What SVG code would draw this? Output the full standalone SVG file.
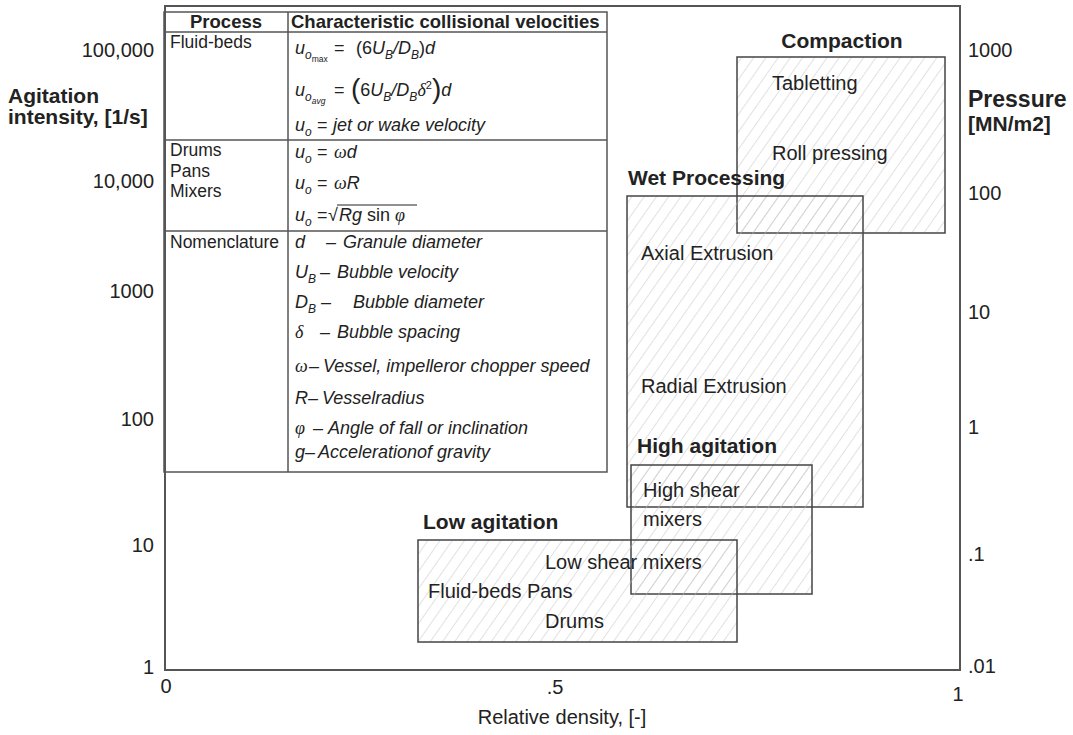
<svg xmlns="http://www.w3.org/2000/svg" width="1073" height="735" viewBox="0 0 1073 735">
<style>
text{font-family:"Liberation Sans",Arial,sans-serif;fill:#222;}
.b{font-weight:bold;}
.i{font-style:italic;}
.n{font-style:normal;}
.g{font-family:"Liberation Serif","Times New Roman",serif;font-style:italic;}
.tk{font-size:20px;}
.hd{font-size:21px;font-weight:bold;}
.lb{font-size:20px;}
.th{font-size:18.5px;font-weight:bold;}
.tc{font-size:17.5px;}
.f{font-size:18px;font-style:italic;}
.box{fill:url(#hatch);stroke:#444;stroke-width:1.5;}
.tbl{fill:none;stroke:#555;stroke-width:1.5;}
</style>
<defs>
<pattern id="hatch" width="10" height="10" patternUnits="userSpaceOnUse" patternTransform="rotate(35)">
<line x1="0" y1="-1" x2="0" y2="11" stroke="#c4c4c4" stroke-width="1"/>
</pattern>
</defs>
<rect width="1073" height="735" fill="#fff"/>

<g id="frame">
<rect x="165" y="6" width="795" height="664" fill="none" stroke="#555" stroke-width="2"/>
</g>

<g id="y-axis-left">
<text class="tk" x="154" y="57" text-anchor="end">100,000</text>
<text class="tk" x="154" y="188" text-anchor="end">10,000</text>
<text class="tk" x="154" y="298" text-anchor="end">1000</text>
<text class="tk" x="154" y="426" text-anchor="end">100</text>
<text class="tk" x="154" y="552" text-anchor="end">10</text>
<text class="tk" x="154" y="674" text-anchor="end">1</text>
<text class="b" font-size="21" x="8" y="103">Agitation</text>
<text class="b" font-size="21" x="8" y="124">intensity, [1/s]</text>
</g>

<g id="y-axis-right">
<text class="tk" x="968" y="57">1000</text>
<text class="tk" x="968" y="200">100</text>
<text class="tk" x="968" y="319">10</text>
<text class="tk" x="968" y="434">1</text>
<text class="tk" x="968" y="561">.1</text>
<text class="tk" x="968" y="673">.01</text>
<text class="b" font-size="23" x="968" y="107">Pressure</text>
<text class="b" font-size="21" x="968" y="131">[MN/m2]</text>
</g>

<g id="x-axis">
<text class="tk" x="166" y="693" text-anchor="middle">0</text>
<text class="tk" x="555" y="694" text-anchor="middle">.5</text>
<text class="tk" x="958" y="701" text-anchor="middle">1</text>
<text font-size="20" x="562" y="724" text-anchor="middle">Relative density, [-]</text>
</g>

<g id="table">
<rect class="tbl" x="164" y="12" width="443" height="460"/>
<line class="tbl" x1="164" y1="32" x2="607" y2="32"/>
<line class="tbl" x1="164" y1="140" x2="607" y2="140"/>
<line class="tbl" x1="164" y1="231" x2="607" y2="231"/>
<line class="tbl" x1="288" y1="12" x2="288" y2="472"/>
<text class="th" x="226" y="28" text-anchor="middle">Process</text>
<text class="th" x="291" y="28">Characteristic collisional velocities</text>
<text class="tc" x="170" y="48">Fluid-beds</text>
<text class="tc" x="170" y="156">Drums</text>
<text class="tc" x="170" y="177">Pans</text>
<text class="tc" x="170" y="197">Mixers</text>
<text class="tc" x="170" y="248">Nomenclature</text>

<text class="f" y="54"><tspan x="295">u</tspan><tspan y="59" font-size="12">o</tspan><tspan y="62" font-size="8.5" class="n">max</tspan><tspan x="334" y="54" class="n">=</tspan><tspan x="356" class="n">(6</tspan><tspan>U</tspan><tspan y="59" font-size="12">B</tspan><tspan y="54">/D</tspan><tspan y="59" font-size="12">B</tspan><tspan y="54" class="n">)</tspan><tspan>d</tspan></text>

<text class="f" y="96"><tspan x="295">u</tspan><tspan y="101" font-size="12">o</tspan><tspan y="104" font-size="8.5">avg</tspan><tspan x="334" y="96" class="n">=</tspan><tspan x="351" y="98" font-size="28" class="n">(</tspan><tspan y="96" class="n">6</tspan><tspan>U</tspan><tspan y="101" font-size="12">B</tspan><tspan y="96">/D</tspan><tspan y="101" font-size="12">B</tspan><tspan y="96" class="g">δ</tspan><tspan y="89" font-size="11" class="n">2</tspan><tspan y="98" font-size="28" class="n">)</tspan><tspan y="96">d</tspan></text>

<text class="f" y="131"><tspan x="295">u</tspan><tspan y="136" font-size="12">o</tspan><tspan x="317" y="131" class="n">=</tspan><tspan x="333">jet or wake velocity</tspan></text>

<text class="f" y="158"><tspan x="295">u</tspan><tspan y="163" font-size="12">o</tspan><tspan x="317" y="158" class="n">=</tspan><tspan x="334" class="g">ω</tspan><tspan>d</tspan></text>
<text class="f" y="189"><tspan x="295">u</tspan><tspan y="194" font-size="12">o</tspan><tspan x="317" y="189" class="n">=</tspan><tspan x="334" class="g">ω</tspan><tspan>R</tspan></text>
<text class="f" y="221"><tspan x="295">u</tspan><tspan y="226" font-size="12">o</tspan><tspan x="317" y="221" class="n">=</tspan></text>
<text font-size="18" font-family="Liberation Serif" x="328" y="221">√</text>
<text class="f" y="221"><tspan x="339">Rg </tspan><tspan class="n">sin </tspan><tspan class="g">φ</tspan></text>
<line x1="337" y1="205" x2="417" y2="205" stroke="#222" stroke-width="1"/>

<text class="f" y="248"><tspan x="295">d</tspan><tspan x="326">–</tspan><tspan x="343">Granule diameter</tspan></text>
<text class="f" y="278"><tspan x="295">U</tspan><tspan y="283" font-size="12">B</tspan><tspan x="320" y="278">–</tspan><tspan x="337">Bubble velocity</tspan></text>
<text class="f" y="308"><tspan x="295">D</tspan><tspan y="313" font-size="12">B</tspan><tspan x="321" y="308">–</tspan><tspan x="353">Bubble diameter</tspan></text>
<text class="f" y="338"><tspan x="295" class="g">δ</tspan><tspan x="320">–</tspan><tspan x="337">Bubble spacing</tspan></text>
<text class="f" y="372"><tspan x="295" class="g">ω</tspan><tspan x="309">–</tspan><tspan x="323">Vessel, impelleror chopper speed</tspan></text>
<text class="f" y="404"><tspan x="295">R</tspan><tspan x="308">–</tspan><tspan x="322">Vesselradius</tspan></text>
<text class="f" y="434"><tspan x="295" class="g">φ</tspan><tspan x="313">–</tspan><tspan x="328">Angle of fall or inclination</tspan></text>
<text class="f" y="458"><tspan x="295">g</tspan><tspan x="305">–</tspan><tspan x="318">Accelerationof gravity</tspan></text>
</g>

<g id="compaction">
<rect class="box" x="737" y="57" width="208" height="176"/>
<text class="hd" x="842" y="48" text-anchor="middle">Compaction</text>
<text class="lb" x="772" y="90">Tabletting</text>
<text class="lb" x="772" y="160">Roll pressing</text>
</g>

<g id="wet-processing">
<rect class="box" x="627" y="196" width="236" height="311"/>
<text class="hd" x="628" y="185">Wet Processing</text>
<text class="lb" x="641" y="260">Axial Extrusion</text>
<text class="lb" x="641" y="393">Radial Extrusion</text>
</g>

<g id="high-agitation">
<rect class="box" x="631" y="465" width="181" height="129"/>
<text class="hd" x="637" y="453">High agitation</text>
<text class="lb" x="643" y="497">High shear</text>
<text class="lb" x="643" y="526">mixers</text>
</g>

<g id="low-agitation">
<rect class="box" x="418" y="540" width="319" height="102"/>
<text class="hd" x="423" y="529">Low agitation</text>
<text class="lb" x="545" y="569">Low shear mixers</text>
<text class="lb" x="428" y="598">Fluid-beds Pans</text>
<text class="lb" x="545" y="628">Drums</text>
</g>
</svg>
